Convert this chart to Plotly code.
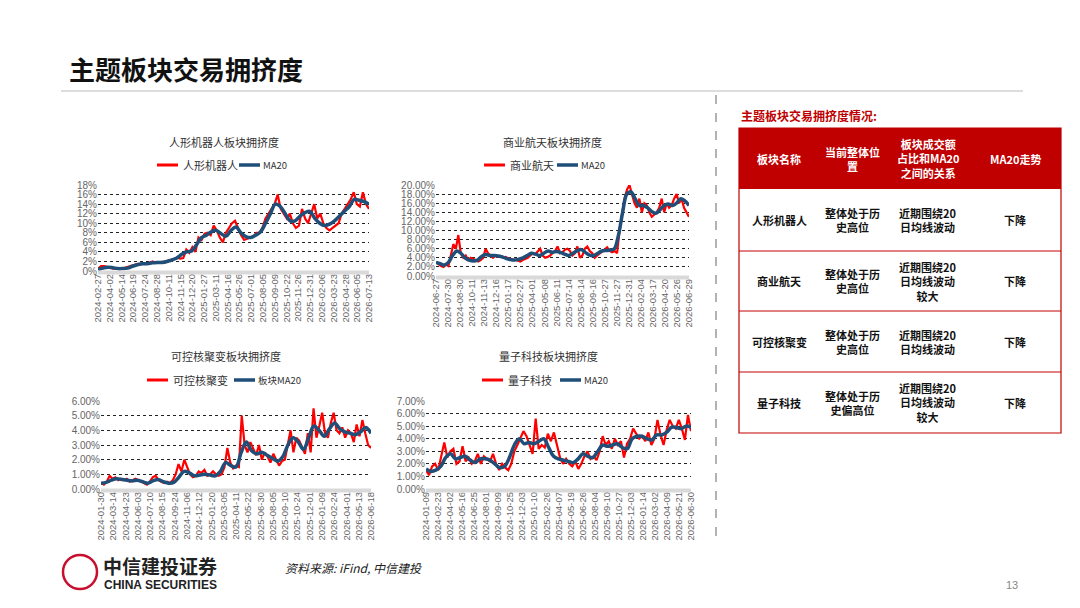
import plotly.graph_objects as go

# ---------------- data ----------------
titles = ["人形机器人板块拥挤度", "商业航天板块拥挤度", "可控核聚变板块拥挤度", "量子科技板块拥挤度"]
red_names = ["人形机器人", "商业航天", "可控核聚变", "量子科技"]
ma_names = ["MA20", "MA20", "板块MA20", "MA20"]

ticks1 = ["2024-02-27","2024-04-02","2024-05-14","2024-06-19","2024-07-24","2024-08-28","2024-10-11","2024-11-15","2024-12-20","2025-01-27","2025-03-11","2025-04-16","2025-05-26","2025-07-01","2025-08-05","2025-09-09","2025-10-22","2025-11-26","2025-12-31","2026-02-06","2026-03-23","2026-04-28","2026-06-05","2026-07-13"]
ticks2 = ["2024-06-27","2024-07-30","2024-08-30","2024-10-11","2024-11-13","2024-12-16","2025-01-17","2025-02-27","2025-04-01","2025-05-08","2025-06-11","2025-07-14","2025-08-14","2025-09-16","2025-10-27","2025-11-27","2025-12-31","2026-02-04","2026-03-17","2026-04-20","2026-05-26","2026-06-29"]
ticks3 = ["2024-01-30","2024-03-14","2024-04-23","2024-06-03","2024-07-10","2024-08-15","2024-09-24","2024-11-06","2024-12-12","2025-01-20","2025-03-05","2025-04-11","2025-05-22","2025-06-30","2025-08-05","2025-09-10","2025-10-24","2025-12-01","2026-01-09","2026-02-24","2026-04-01","2026-05-13","2026-06-18"]
ticks4 = ["2024-01-09","2024-02-23","2024-04-02","2024-05-16","2024-06-25","2024-08-01","2024-09-09","2024-10-25","2024-12-03","2025-01-10","2025-02-26","2025-04-07","2025-05-19","2025-06-26","2025-08-04","2025-09-10","2025-10-27","2025-12-03","2026-01-14","2026-03-02","2026-04-09","2026-05-21","2026-06-30"]

red1 = [0.5,1,1,0.8,0.6,0.5,0.5,0.4,0.5,0.7,0.9,1.1,1.3,1.5,1.4,1.6,1.5,1.8,2,1.7,1.8,1.9,1.8,2.2,2.3,2.5,2.8,2.6,2.7,4.5,3.8,5,4,7,6.5,7.8,8,7.5,9.5,8.5,7,6,8,9,10,10.5,9,7.5,6.5,6.8,7,7.2,8,8,9,11,12,13,14,16,13,12,11,12,10,9,9.5,13,11,10,12,14,11,12,10,9,8.5,9,9.5,10,12,13,14,15,16.5,14,13.5,16.5,14,13]
ma1 = [0.3,0.6,0.8,0.7,0.5,0.5,0.6,1,1.3,1.5,1.5,1.7,1.8,1.8,2,2.3,2.7,3.5,4,4.2,5.5,7,7.5,8.2,8.5,7.8,7.3,8.5,9.2,8,7.2,7,7.5,8.2,10,12,14,13.5,12,10.5,10.5,11.5,12.2,12.5,11,10,9.5,9.8,10.5,11.5,12.5,13.5,15,14.8,14.5,14]
red2 = [3,2.5,2.2,2,2.5,2.2,5,7,6,9,5,4,4.5,3.5,4,3.8,3.5,3.2,3.5,4,6,5,4.5,4,4.5,4.2,4.4,4,4.2,4,3.8,3.5,3.6,3.4,3.2,3.5,3.8,4,4.5,5,4.8,5.5,6,4.5,4,4.2,4.5,5,5.5,6.5,5,5.2,5.8,6,5.5,4.5,5,6.5,4,4.5,6,6.5,5.5,5,4,4.5,5,5.5,6,6.3,5.5,5.2,5.5,5,10,14,17,19,20,18,16,15,17,14,16,15.5,14,13,13.5,14,15,17,14,16,15,15.5,17,18,16,17,15,14,13]
ma2 = [3,2.7,2.4,3,4.5,5.5,5,4,3.5,3.3,3.5,4.3,4.7,4.5,4.5,4.4,4.2,3.8,3.6,3.5,3.7,4,4.5,5,4.8,4.5,5,5.5,5.2,5.4,5.2,4.8,4.5,5,5.5,5.8,5.2,4.6,4.5,5,5.5,5.6,5.7,6,9,14,18,18.5,17,15.5,15.5,15,14.2,13.8,14.5,15.5,15.8,15.5,16,17,16.5,15.5]
red3 = [0.4,0.3,0.5,0.9,0.7,0.8,0.6,0.7,0.6,0.7,0.5,0.6,0.7,0.6,0.5,0.4,0.3,0.5,0.8,0.9,0.6,0.5,0.4,0.5,0.4,0.6,1,1.7,1.2,2,1.5,1,0.8,0.9,1.2,1.1,1.3,0.9,1,1.2,1,0.9,1,1.5,2.8,1.8,1.4,1.6,1.5,5,3,2.5,3.2,2.8,2.3,3,2,2.5,2.2,1.8,2.4,2,1.6,1.9,2,3,4,2.5,3.5,3.3,2.8,2.4,3.8,2.5,5.5,3.5,4.3,5.2,3.8,3.5,4.5,5.2,4,3.8,4.2,3.5,4,3.8,3.2,4.4,3.6,4.7,3.8,3,2.8]
ma3 = [0.4,0.45,0.6,0.7,0.65,0.6,0.55,0.6,0.5,0.4,0.55,0.65,0.5,0.4,0.45,0.8,1.2,1.1,0.9,0.95,1,0.95,0.9,1.2,1.8,1.6,1.5,2.5,3.2,2.6,2.4,2.5,2.3,2.1,1.9,2.2,3,3.5,3.2,2.7,3.5,4.3,4,3.6,4.1,4.5,4.1,3.9,3.8,3.7,3.9,4.2,3.8]
red4 = [1.5,1.1,1.8,2,1.5,2.5,3.7,2.5,3,3.2,2,2.2,3.4,2.2,2.5,2,2.2,2.8,2,2.6,2.4,2.2,2.8,2,1.5,2,1.7,1.5,2,3,3.5,4,4.6,4.2,3.5,2.8,5.6,3.2,3.5,3.3,4.4,3.8,4.5,3.5,2.5,2,2.4,2,1.8,2.2,1.6,2,2.6,3,2.4,2.6,2.3,3,4.2,3.5,3.8,3.2,4,3.5,3.8,2.5,3.6,4,4.8,4.4,4,4.2,3.8,4.5,3.5,4,5.5,4.3,3.5,4.7,5.5,5,4.8,5.5,4.8,3.9,5.9,4.6]
ma4 = [1.6,1.4,1.5,1.8,2.5,2.8,2.4,2.5,2.6,2.3,2.1,2.4,2.4,2.3,2,1.7,1.8,2.5,3.5,4,3.6,3.7,3.6,3.8,4,3.3,2.6,2.4,2.3,2.2,2.1,2.4,2.8,2.6,2.5,3,3.5,3.4,3.5,3.6,3.3,3.2,4,4.2,4.2,4,3.9,4.3,4.3,4.5,4.9,4.9,4.8,5,4.9]

ymax = [18, 20, 6, 7]
ydt = [2, 2, 1, 1]
ydec = [0, 2, 2, 2]

table_header = ["板块名称", "当前整体位<br>置", "板块成交额<br>占比和MA20<br>之间的关系", "MA20走势"]
table_rows = [
    ["人形机器人", "整体处于历<br>史高位", "近期围绕20<br>日均线波动", "下降"],
    ["商业航天", "整体处于历<br>史高位", "近期围绕20<br>日均线波动<br>较大", "下降"],
    ["可控核聚变", "整体处于历<br>史高位", "近期围绕20<br>日均线波动", "下降"],
    ["量子科技", "整体处于历<br>史偏高位", "近期围绕20<br>日均线波动<br>较大", "下降"],
]

# ---------------- layout helpers ----------------
W, H = 1080, 608
OX, OY = 7, 9
def px(x): return (x - OX) / W
def py(y): return 1 - (y - OY) / H

RED = "#FF0000"
NAVY = "#1F4E79"
DARKRED = "#C00000"
FONT = "Noto Sans CJK SC"

def ann(text, x, y, size, color="#111", xa="center", family=FONT):
    return dict(text=text, x=px(x), y=py(y), xref="paper", yref="paper", xanchor=xa, yanchor="middle",
                showarrow=False, font=dict(size=size, color=color, family=family))

def line(x0, y0, x1, y1, color, width, dash="solid"):
    return dict(type="line", xref="paper", yref="paper", x0=px(x0), x1=px(x1), y0=py(y0), y1=py(y1),
                line=dict(color=color, width=width, dash=dash))

boxes = [(97, 368, 186, 272, 143, 166), (435, 688, 186, 277, 143, 166),
         (100, 370, 402, 490, 357, 381), (425, 690, 402, 490, 357, 381)]
leg_x = [(180, 262), (507, 580), (170, 257), (505, 583)]
reds = [red1, red2, red3, red4]
mas = [ma1, ma2, ma3, ma4]
ticks = [ticks1, ticks2, ticks3, ticks4]

fig = go.Figure()
shapes, annotations = [], []

for i in range(4):
    x0, x1, yt, yb, ty, ly = boxes[i]
    r, m, tk = reds[i], mas[i], ticks[i]
    n = len(r)
    xr = list(range(n))
    xm = [j * (n - 1) / (len(m) - 1) for j in range(len(m))]
    sfx = "" if i == 0 else str(i + 1)
    fig.add_trace(go.Scatter(x=xr, y=r, mode="lines", line=dict(color=RED, width=2.2),
                             xaxis="x" + sfx, yaxis="y" + sfx, showlegend=False))
    fig.add_trace(go.Scatter(x=xm, y=m, mode="lines", line=dict(color=NAVY, width=3.5, shape="spline"),
                             xaxis="x" + sfx, yaxis="y" + sfx, showlegend=False))
    tv = [j * (n - 1) / (len(tk) - 1) for j in range(len(tk))]
    yv = list(range(0, ymax[i] + 1, ydt[i]))
    yt_text = [f"{v:.{ydec[i]}f}%" for v in yv]
    fig.layout["xaxis" + sfx] = dict(domain=[px(x0), px(x1)], anchor="y" + sfx, range=[0, n - 1],
                                      tickvals=tv, ticktext=tk, tickangle=-90, showgrid=False,
                                      tickfont=dict(size=9.5, color="#666", family="Liberation Sans"),
                                      showline=False, zeroline=False, ticks="")
    fig.layout["yaxis" + sfx] = dict(domain=[py(yb), py(yt)], anchor="x" + sfx, range=[0, ymax[i]],
                                      tickvals=yv, ticktext=yt_text, showgrid=True, gridcolor="#222",
                                      griddash="dot", gridwidth=0.8, zeroline=False,
                                      tickfont=dict(size=10, color="#666", family="Liberation Sans"))
    shapes.append(line(x0, yb + 1.5, x1, yb + 1.5, "#d9d9d9", 4))
    annotations.append(ann(titles[i], (x0 + x1) / 2 - 10, ty, 11, "#333"))
    a, b = leg_x[i]
    shapes.append(line(a - 24, ly, a - 3, ly, RED, 3))
    annotations.append(ann(red_names[i], a, ly, 11, "#333", "left"))
    shapes.append(line(b - 24, ly, b - 3, ly, NAVY, 3.5))
    annotations.append(ann(ma_names[i], b - 2, ly, 9.5, "#333", "left"))

# page title & decorations
annotations.append(ann("<b>主题板块交易拥挤度</b>", 66, 70, 26, "#111", "left"))
shapes.append(line(60, 92, 1022, 92, "#bbb", 1))
shapes.append(line(715, 96, 715, 545, "#666", 1, "dash"))

# table
annotations.append(ann("<b>主题板块交易拥挤度情况:</b>", 738, 117, 12, DARKRED, "left"))
col_x = [738, 818, 885, 968, 1060]
row_y = [129, 190, 252, 312, 373, 434]
shapes.append(dict(type="rect", xref="paper", yref="paper", x0=px(738), x1=px(1060), y0=py(129), y1=py(190),
                   fillcolor=DARKRED, line=dict(width=0)))
shapes.append(dict(type="rect", xref="paper", yref="paper", x0=px(738), x1=px(1060), y0=py(129), y1=py(434),
                   line=dict(color=DARKRED, width=1.2)))
for y in row_y[2:-1]:
    shapes.append(line(738, y, 1060, y, DARKRED, 1))
for c, h in enumerate(table_header):
    annotations.append(ann(f"<b>{h}</b>", (col_x[c] + col_x[c + 1]) / 2, (row_y[0] + row_y[1]) / 2, 11, "white"))
for r_i, row in enumerate(table_rows):
    for c, t in enumerate(row):
        annotations.append(ann(f"<b>{t}</b>", (col_x[c] + col_x[c + 1]) / 2,
                               (row_y[r_i + 1] + row_y[r_i + 2]) / 2, 11, "#111"))

# footer
shapes.append(dict(type="circle", xref="paper", yref="paper", x0=px(62), x1=px(96), y0=py(556), y1=py(590),
                   line=dict(color="#C8102E", width=2.5)))
annotations.append(ann("<b>中信建投证券</b>", 100, 566, 19, "#222", "left"))
annotations.append(ann("<b>CHINA SECURITIES</b>", 101, 586, 12, "#222", "left", "Liberation Sans"))
annotations.append(ann("<i>资料来源: iFind, 中信建投</i>", 282, 568, 12, "#222", "left"))
annotations.append(ann("13", 1011, 586, 11, "#888", "center", "Liberation Sans"))

fig.update_layout(width=W, height=H, margin=dict(l=0, r=0, t=0, b=0, autoexpand=False), paper_bgcolor="white",
                  plot_bgcolor="white", shapes=shapes, annotations=annotations, showlegend=False)
fig.write_html("out.html")
